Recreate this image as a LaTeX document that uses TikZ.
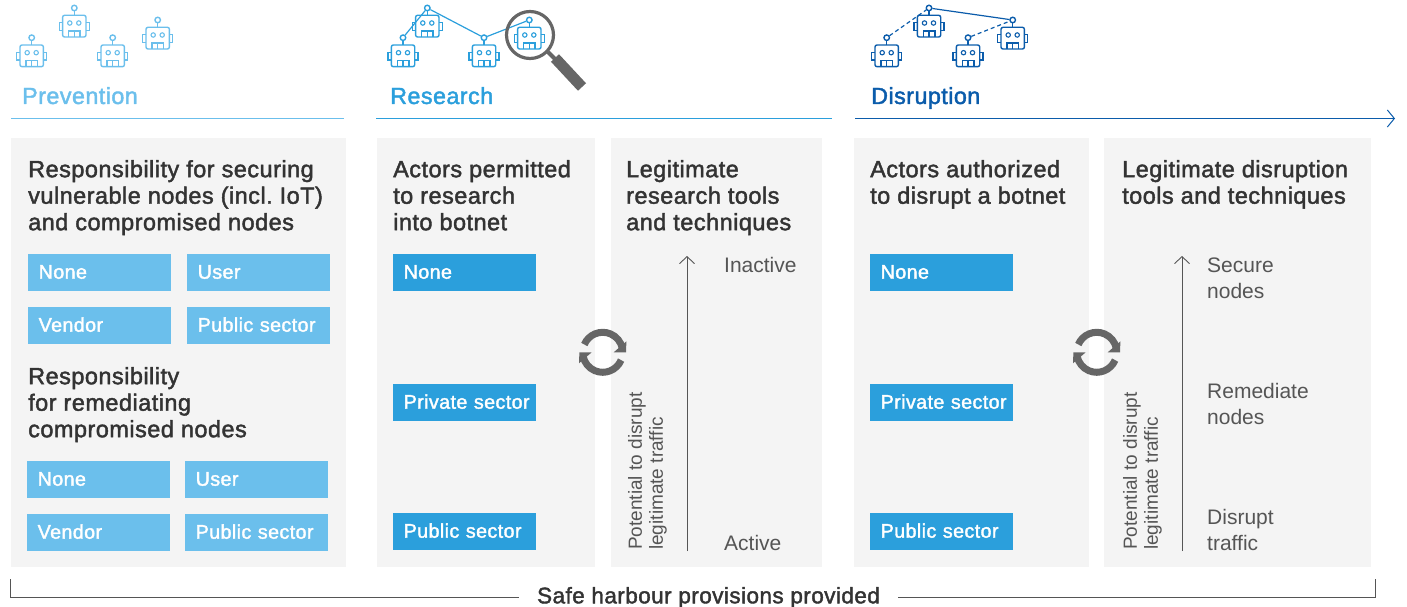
\documentclass[tikz,border=0pt]{standalone}
\usepackage{fontspec}
\setmainfont{Liberation Sans}
\newfontfamily\medfont[FakeBold=1.8,LetterSpace=2]{Liberation Sans}
\usetikzlibrary{arrows.meta}
\definecolor{prevblue}{HTML}{6BBFEC}
\definecolor{resblue}{HTML}{2B9FDC}
\definecolor{disblue}{HTML}{0B5CAB}
\definecolor{panelgrey}{HTML}{F4F4F4}
\definecolor{inkgrey}{HTML}{333333}
\definecolor{softgrey}{HTML}{555555}
\definecolor{iconblack}{HTML}{666666}
\tikzset{
  robot/.pic={
    \node [draw,circle,line width=1.4pt,minimum size=5.5pt,inner sep=0pt] (-top) at (0,0) {};
    \draw [line width=1.4pt] (0,2.5) -- (0,7.3);
    \draw [line width=1.4pt,rounded corners=2pt] (-11.7,7.3) rectangle (11.7,29);
    \draw [line width=1.4pt] (-11.7,14.7) -- (-15,14.7) -- (-15,22.3) -- (-11.7,22.3);
    \draw [line width=1.4pt] (11.7,14.7) -- (15,14.7) -- (15,22.3) -- (11.7,22.3);
    \draw [line width=1.1pt] (-4.5,15) circle (2.2pt);
    \draw [line width=1.1pt] (4.5,15) circle (2.2pt);
    \draw [line width=1.4pt] (-5.8,29) -- (-5.8,23) -- (5.8,23) -- (5.8,29);
    \draw [line width=1.4pt] (0,23) -- (0,29);
  },
  swapicon/.pic={
    \draw [iconblack,line width=7pt] (-18.4,-7.8) arc [start angle=157,end angle=12,radius=20pt];
    \fill [iconblack] (23.7,-11) -- (23.3,0) -- (11,0) -- cycle;
    \draw [iconblack,line width=7pt] (18.4,7.8) arc [start angle=-23,end angle=-168,radius=20pt];
    \fill [iconblack] (-23.7,11) -- (-23.3,0) -- (-11,0) -- cycle;
  },
  headtext/.style={anchor=base west,inner sep=0pt,font=\medfont\frenchspacing\fontsize{23.3}{26}\selectfont},
  paneltitle/.style={anchor=north west,inner sep=0pt,align=left,text=inkgrey,font=\medfont\frenchspacing\fontsize{23.5}{26.5}\selectfont},
  optbox/.style={anchor=north west,inner sep=0pt,text width=143pt,minimum height=37pt,
    text height=14pt,text depth=2pt,text=white,font=\medfont\frenchspacing\fontsize{19.7}{22}\selectfont,
    execute at begin node=\hspace*{10.5pt}},
  lightbox/.style={optbox,fill=prevblue},
  darkbox/.style={optbox,fill=resblue},
  scaletext/.style={anchor=north west,inner sep=0pt,align=left,text=softgrey,font=\fontsize{21}{26}\selectfont},
  sidetext/.style={anchor=north west,rotate=90,inner sep=0pt,align=left,text=softgrey,font=\fontsize{19}{21}\selectfont},
  scalearrow/.style={-{Straight Barb[length=7pt,width=15pt]},line width=0.9pt,draw=softgrey},
}
\begin{document}
\begin{tikzpicture}[x=1pt,y=-1pt]
\useasboundingbox (0,0) rectangle (1407,607);
% panels
\fill [panelgrey] (11,138) rectangle (346,567);
\fill [panelgrey] (377,138) rectangle (595,567);
\fill [panelgrey] (611,138) rectangle (822,567);
\fill [panelgrey] (854,138) rectangle (1089,567);
\fill [panelgrey] (1104,138) rectangle (1371,567);
% headers
\node [headtext,text=prevblue] (prevhead) at (22,104) {Prevention};
\node [headtext,text=resblue] (reshead) at (390,104) {Research};
\node [headtext,text=disblue] (dishead) at (871,104) {Disruption};
\draw [prevblue,line width=1pt] (11,118.5) -- (344,118.5);
\draw [resblue,line width=1pt] (376,118.5) -- (832,118.5);
\draw [disblue,line width=1pt,-{Straight Barb[length=7pt,width=17pt]}] (855,118.5) -- (1395,118.5);
% robots
\pic [prevblue] (pa) at (31.7,37.7) {robot};
\pic [prevblue] (pb) at (74.3,8) {robot};
\pic [prevblue] (pc) at (112.7,37.7) {robot};
\pic [prevblue] (pd) at (157.7,20) {robot};
\pic [resblue] (ra) at (403,37.7) {robot};
\pic [resblue] (rb) at (427.3,8) {robot};
\pic [resblue] (rc) at (484,37.7) {robot};
\pic [resblue] (rd) at (529.3,20) {robot};
\draw [resblue,line width=1.2pt] (ra-top) -- (rb-top);
\draw [resblue,line width=1.2pt] (rb-top) -- (rc-top);
\draw [resblue,line width=1.2pt] (rc-top) -- (rd-top);
\pic [disblue] (da) at (886.7,37.7) {robot};
\pic [disblue] (db) at (929,8) {robot};
\pic [disblue] (dc) at (968,37.7) {robot};
\pic [disblue] (dd) at (1012.7,20) {robot};
\draw [disblue,line width=1.2pt,dash pattern=on 4pt off 3pt] (da-top) -- (db-top);
\draw [disblue,line width=1.2pt] (db-top) -- (dd-top);
\draw [disblue,line width=1.2pt,dash pattern=on 4pt off 3pt] (dc-top) -- (dd-top);
% magnifier
\draw [iconblack,line width=3.2pt] (530,35) circle (23.5pt);
\draw [iconblack,line width=4pt] (548,52) -- (555,59);
\draw [iconblack,line width=11pt] (555,58) -- (582,87);
% prevention panel
\node [paneltitle] (secure) at (28,160) {Responsibility for securing\\vulnerable nodes (incl. IoT)\\and compromised nodes};
\node [lightbox] (sa) at (28,254) {None};
\node [lightbox] (sb) at (187,254) {User};
\node [lightbox] (sc) at (28,307) {Vendor};
\node [lightbox] (sd) at (187,307) {Public sector};
\node [paneltitle] (remedy) at (28,367) {Responsibility\\for remediating\\compromised nodes};
\node [lightbox] (ma) at (27,461) {None};
\node [lightbox] (mb) at (185,461) {User};
\node [lightbox] (mc) at (27,514) {Vendor};
\node [lightbox] (md) at (185,514) {Public sector};
% research panels
\node [paneltitle] (actres) at (393,160) {Actors permitted\\to research\\into botnet};
\node [darkbox] (ra1) at (393,254) {None};
\node [darkbox] (ra2) at (393,384) {Private sector};
\node [darkbox] (ra3) at (393,513) {Public sector};
\node [paneltitle] (toolres) at (626,160) {Legitimate\\research tools\\and techniques};
\coordinate (resbot) at (687,551);
\coordinate (restop) at (687,256);
\draw [scalearrow] (resbot) -- (restop);
\node [scaletext] (inactive) at (724,257) {Inactive};
\node [scaletext] (active) at (724,535) {Active};
\node [sidetext] (respot) at (628,550) {Potential to disrupt\\legitimate traffic};
% disruption panels
\node [paneltitle] (actdis) at (870,160) {Actors authorized\\to disrupt a botnet};
\node [darkbox] (da1) at (870,254) {None};
\node [darkbox] (da2) at (870,384) {Private sector};
\node [darkbox] (da3) at (870,513) {Public sector};
\node [paneltitle] (tooldis) at (1122,160) {Legitimate disruption\\tools and techniques};
\coordinate (disbot) at (1182,551);
\coordinate (distop) at (1182,256);
\draw [scalearrow] (disbot) -- (distop);
\node [scaletext] (securen) at (1207,258) {Secure\\nodes};
\node [scaletext] (remedn) at (1207,383) {Remediate\\nodes};
\node [scaletext] (disruptn) at (1207,509) {Disrupt\\traffic};
\node [sidetext] (dispot) at (1123,550) {Potential to disrupt\\legitimate traffic};
% swap icons
\pic at (602.7,352.3) {swapicon};
\pic at (1096.7,352.3) {swapicon};
% bracket
\node [inner xsep=18pt,inner ysep=0pt,text=inkgrey,font=\medfont\frenchspacing\fontsize{22.5}{25}\selectfont] (harbour) at (708.5,597.5) {Safe harbour provisions provided};
\coordinate (brackl) at (10,579);
\coordinate (brackr) at (1375,579);
\draw [softgrey,line width=0.9pt] (brackl) |- (harbour.west);
\draw [softgrey,line width=0.9pt] (brackr) |- (harbour.east);
\end{tikzpicture}
\end{document}
